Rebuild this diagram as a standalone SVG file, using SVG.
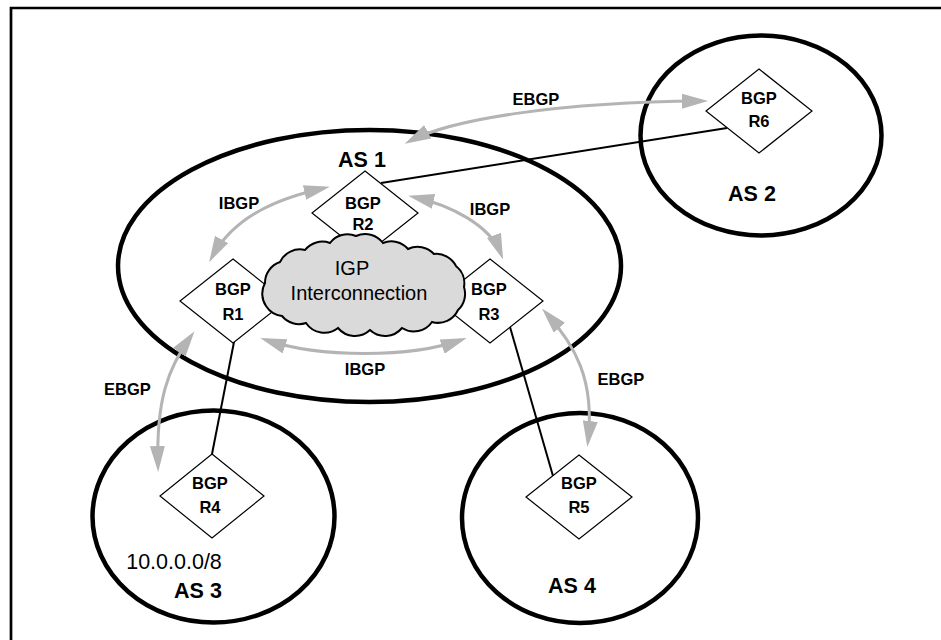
<svg xmlns="http://www.w3.org/2000/svg" width="941" height="640" viewBox="0 0 941 640">
  <style>
    .as { fill: none; stroke: #000; stroke-width: 4.5; }
    .rtr { fill: #fff; stroke: #000; stroke-width: 1.2; }
    .link { fill: none; stroke: #000; stroke-width: 2; }
    .peer { fill: none; stroke: #b4b4b4; stroke-width: 3; marker-start: url(#tip); marker-end: url(#tip); }
    text { font-family: "Liberation Sans", Arial, Helvetica, sans-serif; text-anchor: middle; fill: #000; }
    .lbl { font-size: 16.5px; font-weight: bold; }
    .asn { font-size: 21.5px; font-weight: bold; }
    .plain { font-size: 20px; }
  </style>
  <defs>
    <marker id="tip" markerUnits="userSpaceOnUse" markerWidth="26" markerHeight="15" refX="20" refY="7.5" orient="auto-start-reverse" viewBox="0 0 26 15">
      <path d="M0,0 L26,7.5 L0,15 z" fill="#b4b4b4"/>
    </marker>
  </defs>

  <rect width="941" height="640" fill="#fff"/>
  <!-- page frame (top and left edges only) -->
  <path d="M11,640 L11,8 L941,8" fill="none" stroke="#000" stroke-width="2.7"/>

  <!-- autonomous systems -->
  <g id="as1">
    <ellipse class="as" cx="369.5" cy="266" rx="251.5" ry="136"/>
    <text class="asn" x="362" y="167">AS 1</text>
  </g>
  <g id="as2">
    <ellipse class="as" cx="761" cy="135.5" rx="120.5" ry="100"/>
    <text class="asn" x="752" y="200.5">AS 2</text>
  </g>
  <g id="as3">
    <ellipse class="as" cx="213.5" cy="516.5" rx="121" ry="106"/>
    <text class="plain" x="174" y="569" style="font-size:21.5px">10.0.0.0/8</text>
    <text class="asn" x="198" y="598">AS 3</text>
  </g>
  <g id="as4">
    <ellipse class="as" cx="580" cy="518" rx="118" ry="105"/>
    <text class="asn" x="572" y="593">AS 4</text>
  </g>

  <!-- connectors: physical links and BGP sessions -->
  <g id="connectors">
    <line class="link" x1="234" y1="342" x2="212" y2="454"/>
    <line class="link" x1="510" y1="327" x2="553" y2="476"/>
    <line class="link" x1="381" y1="183" x2="727" y2="128"/>

    <path class="peer" d="M410,141 C452,119 560,102 702,101"/>
    <path class="peer" d="M324,188 C280,198 235,215 212,257"/>
    <path class="peer" d="M414,197 C450,205 490,225 501,254"/>
    <path class="peer" d="M266,340 C320,358 410,358 461,340"/>
    <path class="peer" d="M191,336 C168,368 156,400 158,466"/>
    <path class="peer" d="M546,313 C575,345 595,380 588,441"/>

    <text class="lbl" x="536" y="105">EBGP</text>
    <text class="lbl" x="239" y="209">IBGP</text>
    <text class="lbl" x="490" y="215">IBGP</text>
    <text class="lbl" x="365" y="375">IBGP</text>
    <text class="lbl" x="127.5" y="395">EBGP</text>
    <text class="lbl" x="621" y="385">EBGP</text>
  </g>

  <!-- BGP routers -->
  <g id="r1">
    <polygon class="rtr" points="233,259 286,301 233,343 180,301"/>
    <text class="lbl" x="233" y="295">BGP</text>
    <text class="lbl" x="233" y="320">R1</text>
  </g>
  <g id="r2">
    <polygon class="rtr" points="365,171 418,213 365,255 312,213"/>
    <text class="lbl" x="363" y="209">BGP</text>
    <text class="lbl" x="363" y="230">R2</text>
  </g>
  <g id="r3">
    <polygon class="rtr" points="490,259 543,301 490,343 437,301"/>
    <text class="lbl" x="489" y="295">BGP</text>
    <text class="lbl" x="489" y="320">R3</text>
  </g>
  <g id="r4">
    <polygon class="rtr" points="212,454 264,496 212,538 160,496"/>
    <text class="lbl" x="210" y="489">BGP</text>
    <text class="lbl" x="210" y="512.5">R4</text>
  </g>
  <g id="r5">
    <polygon class="rtr" points="579,455 632,497 579,539 526,497"/>
    <text class="lbl" x="579" y="489">BGP</text>
    <text class="lbl" x="579" y="512.5">R5</text>
  </g>
  <g id="r6">
    <polygon class="rtr" points="759,69 812,111 759,153 706,111"/>
    <text class="lbl" x="759" y="104">BGP</text>
    <text class="lbl" x="759" y="126.5">R6</text>
  </g>

  <!-- IGP cloud -->
  <g id="igp-cloud">
    <path d="M266,306 A22,22 0 0 1 265,283 A22,22 0 0 1 280,262 A22,22 0 0 1 305,250 A22,22 0 0 1 330,243 A22,22 0 0 1 356,236 A22,22 0 0 1 383,243 A22,22 0 0 1 408,249 A22,22 0 0 1 434,254 A22,22 0 0 1 456,266 A22,22 0 0 1 464,287 A22,22 0 0 1 458,310 A22,22 0 0 1 432,322 A22,22 0 0 1 402,328 A22,22 0 0 1 370,330 A22,22 0 0 1 338,328 A22,22 0 0 1 306,323 A22,22 0 0 1 282,316 A22,22 0 0 1 266,306 Z" fill="#dadada" stroke="#000" stroke-width="2"/>
    <text class="plain" x="352" y="275">IGP</text>
    <text class="plain" x="359" y="300">Interconnection</text>
  </g>
</svg>
